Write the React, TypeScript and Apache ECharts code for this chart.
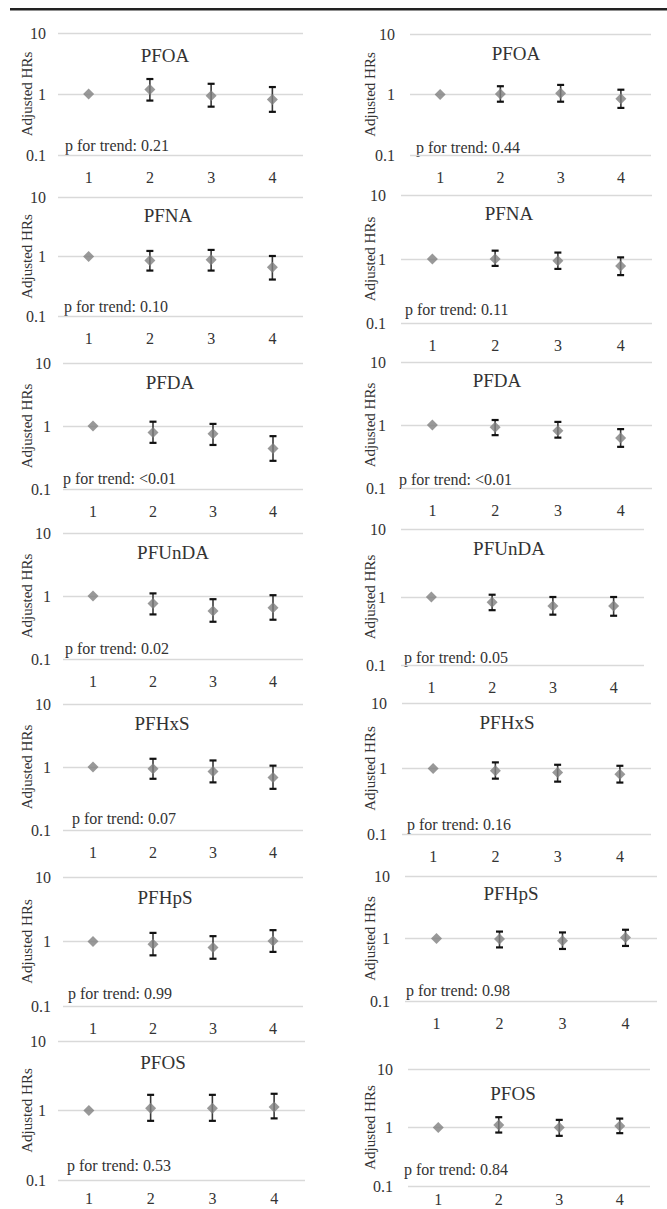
import React, { useEffect, useRef } from "react";
import * as echarts from "echarts";

// ---------- data ----------
const compounds = ["PFOA", "PFNA", "PFDA", "PFUnDA", "PFHxS", "PFHpS", "PFOS"];
const quartiles = ["1", "2", "3", "4"];
const yTicks = [0.1, 1, 10];

// left column (model A)
const hrA = [
  [1, 1.19, 0.94, 0.81],
  [1, 0.86, 0.88, 0.66],
  [1, 0.79, 0.75, 0.44],
  [1, 0.76, 0.58, 0.65],
  [1, 0.94, 0.85, 0.68],
  [1, 0.91, 0.81, 1.02],
  [1, 1.08, 1.08, 1.12],
];
const loA = [
  [null, 0.78, 0.62, 0.51],
  [null, 0.58, 0.58, 0.41],
  [null, 0.54, 0.5, 0.28],
  [null, 0.51, 0.39, 0.42],
  [null, 0.65, 0.57, 0.45],
  [null, 0.61, 0.54, 0.69],
  [null, 0.71, 0.71, 0.77],
];
const hiA = [
  [null, 1.76, 1.47, 1.3],
  [null, 1.24, 1.29, 1.02],
  [null, 1.17, 1.08, 0.69],
  [null, 1.1, 0.89, 1.03],
  [null, 1.35, 1.27, 1.05],
  [null, 1.36, 1.21, 1.5],
  [null, 1.68, 1.68, 1.74],
];
const pA = ["0.21", "0.10", "<0.01", "0.02", "0.07", "0.99", "0.53"];

// right column (model B)
const hrB = [
  [1, 1.02, 1.05, 0.85],
  [1, 1.0, 0.94, 0.78],
  [1, 0.92, 0.81, 0.62],
  [1, 0.84, 0.74, 0.74],
  [1, 0.92, 0.87, 0.82],
  [1, 0.98, 0.92, 1.04],
  [1, 1.1, 1.0, 1.06],
];
const loB = [
  [null, 0.76, 0.76, 0.6],
  [null, 0.78, 0.7, 0.56],
  [null, 0.69, 0.63, 0.45],
  [null, 0.64, 0.55, 0.53],
  [null, 0.7, 0.63, 0.61],
  [null, 0.72, 0.68, 0.76],
  [null, 0.82, 0.72, 0.8],
];
const hiB = [
  [null, 1.37, 1.44, 1.2],
  [null, 1.35, 1.26, 1.06],
  [null, 1.2, 1.12, 0.86],
  [null, 1.08, 1.0, 1.0],
  [null, 1.24, 1.14, 1.1],
  [null, 1.29, 1.25, 1.38],
  [null, 1.5, 1.35, 1.42],
];
const pB = ["0.44", "0.11", "<0.01", "0.05", "0.16", "0.98", "0.84"];

// ---------- layout (pixels) ----------
const gridL = [
  [58, 33, 245, 122],
  [58, 197, 245, 119],
  [63, 363, 240, 126],
  [63, 533, 240, 126],
  [63, 704, 240, 126],
  [63, 877, 240, 129],
  [58, 1041, 247, 139],
];
const gridR = [
  [410, 34, 241, 121],
  [401, 195, 251, 128],
  [401, 362, 251, 126],
  [401, 529, 243, 136],
  [402, 703, 249, 131],
  [405, 876, 252, 125],
  [408, 1069, 242, 117],
];
const catMarginL = [14, 14, 14, 14, 14, 14, 10];
const catMarginR = [14, 14, 14, 14, 14, 14, 5];
const titleL = [[165, 55], [168, 215], [170, 382], [173, 552], [162, 723], [165, 897], [163, 1062]];
const titleR = [[516, 53], [509, 213], [497, 380], [509, 548], [507, 722], [511, 893], [513, 1093]];
const pPosL = [[65, 145], [64, 306], [63, 478], [65, 648], [72, 818], [68, 993], [67, 1165]];
const pPosR = [[416, 147], [405, 309], [399, 479], [404, 657], [407, 824], [406, 990], [404, 1169]];

const FONT = "Liberation Serif, Times New Roman, serif";
const TXT = "#333333";

export default function App() {
  const ref = useRef<HTMLDivElement>(null);

  useEffect(() => {
    if (!ref.current) return;
    const chart = echarts.init(ref.current, null, { renderer: "svg" });

    const panels: any[] = [];
    compounds.forEach((name, i) => {
      panels.push({ name, hr: hrA[i], lo: loA[i], hi: hiA[i], p: pA[i], grid: gridL[i], title: titleL[i], pPos: pPosL[i], nameX: 27, side: "L", cm: catMarginL[i] });
    });
    compounds.forEach((name, i) => {
      panels.push({ name, hr: hrB[i], lo: loB[i], hi: hiB[i], p: pB[i], grid: gridR[i], title: titleR[i], pPos: pPosR[i], nameX: 370, side: "R", cm: catMarginR[i] });
    });

    const grids: any[] = [];
    const xAxes: any[] = [];
    const yAxes: any[] = [];
    const series: any[] = [];
    const graphics: any[] = [
      {
        type: "rect",
        shape: { x: 10, y: 8, width: 657, height: 2.5 },
        style: { fill: "#222" },
        silent: true,
      },
    ];

    panels.forEach((pn, k) => {
      const [l, t, w, h] = pn.grid;
      grids.push({ left: l, top: t, width: w, height: h, containLabel: false, outerBoundsMode: "none" });
      xAxes.push({
        type: "category",
        gridIndex: k,
        data: quartiles,
        boundaryGap: true,
        axisLine: { show: false },
        axisTick: { show: false },
        splitLine: { show: false },
        axisLabel: { fontFamily: FONT, fontSize: 16, color: TXT, margin: pn.cm },
      });
      yAxes.push({
        type: "log",
        gridIndex: k,
        logBase: 10,
        min: yTicks[0],
        max: yTicks[yTicks.length - 1],
        axisLine: { show: false },
        axisTick: { show: false },
        splitLine: { show: true, lineStyle: { color: "#d9d9d9", width: 1.3 } },
        axisLabel: {
          fontFamily: FONT,
          fontSize: 16,
          color: TXT,
          margin: pn.side === "L" ? 12 : 15,
          formatter: (v: number) => String(Number(v.toPrecision(2))),
        },
      });

      const errData: any[] = [];
      pn.hr.forEach((_: number, j: number) => {
        if (pn.lo[j] != null && pn.hi[j] != null) errData.push([j, pn.lo[j], pn.hi[j]]);
      });

      series.push({
        type: "custom",
        xAxisIndex: k,
        yAxisIndex: k,
        data: errData,
        encode: { x: 0, y: [1, 2] },
        z: 2,
        silent: true,
        renderItem: (params: any, api: any) => {
          const x = api.value(0);
          const pLo = api.coord([x, api.value(1)]);
          const pHi = api.coord([x, api.value(2)]);
          const cw = 3.5;
          return {
            type: "group",
            children: [
              {
                type: "line",
                shape: { x1: pLo[0], y1: pLo[1], x2: pHi[0], y2: pHi[1] },
                style: { stroke: "#3a3a3a", lineWidth: 1.6 },
              },
              {
                type: "line",
                shape: { x1: pLo[0] - cw, y1: pLo[1], x2: pLo[0] + cw, y2: pLo[1] },
                style: { stroke: "#111", lineWidth: 2.2 },
              },
              {
                type: "line",
                shape: { x1: pHi[0] - cw, y1: pHi[1], x2: pHi[0] + cw, y2: pHi[1] },
                style: { stroke: "#111", lineWidth: 2.2 },
              },
            ],
          };
        },
      });

      series.push({
        type: "scatter",
        xAxisIndex: k,
        yAxisIndex: k,
        data: pn.hr,
        symbol: "diamond",
        symbolSize: 11,
        z: 3,
        itemStyle: { color: "#7f7f7f" },
        silent: true,
      });

      graphics.push({
        type: "text",
        x: pn.title[0],
        y: pn.title[1],
        silent: true,
        style: {
          text: pn.name,
          fill: TXT,
          fontSize: 19,
          fontFamily: FONT,
          textAlign: "center",
          textVerticalAlign: "middle",
        },
      });
      graphics.push({
        type: "text",
        x: pn.pPos[0],
        y: pn.pPos[1],
        silent: true,
        style: {
          text: "p for trend: " + pn.p,
          fill: TXT,
          fontSize: 16,
          fontFamily: FONT,
          textAlign: "left",
          textVerticalAlign: "middle",
        },
      });
      graphics.push({
        type: "text",
        x: pn.nameX,
        y: t + h / 2,
        rotation: Math.PI / 2,
        silent: true,
        style: {
          text: "Adjusted HRs",
          fill: TXT,
          fontSize: 15,
          fontFamily: FONT,
          textAlign: "center",
          textVerticalAlign: "middle",
        },
      });
    });

    chart.setOption({
      animation: false,
      backgroundColor: "#ffffff",
      textStyle: { fontFamily: FONT },
      grid: grids,
      xAxis: xAxes,
      yAxis: yAxes,
      series,
      graphic: graphics,
    });

    return () => chart.dispose();
  }, []);

  return (
    <div
      ref={ref}
      style={{ position: "absolute", left: 0, top: 0, width: 667, height: 1209, background: "#fff" }}
    />
  );
}
